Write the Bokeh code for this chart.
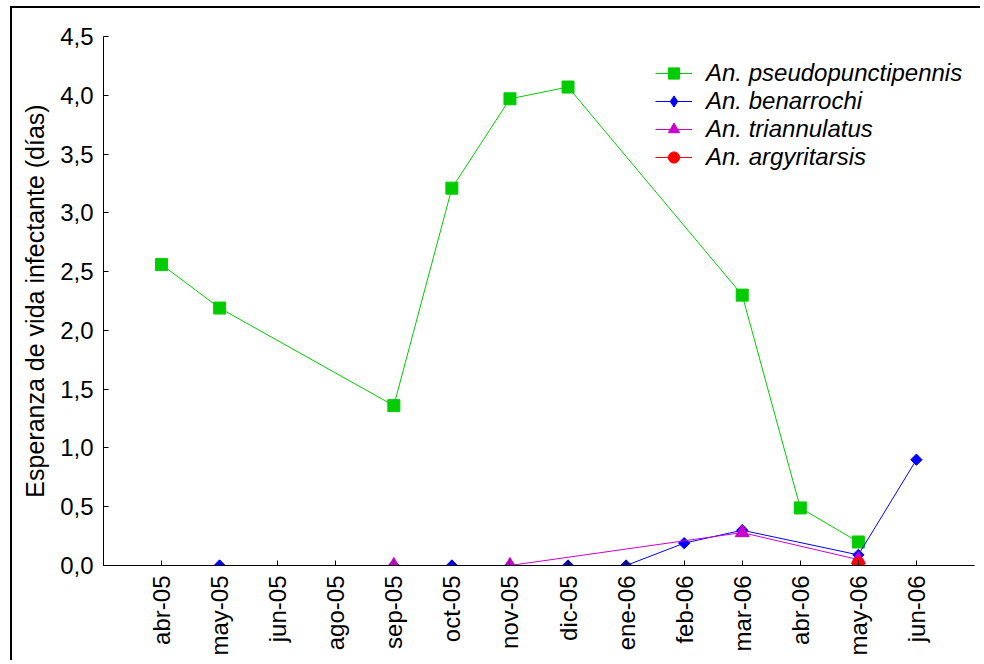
import math
from bokeh.plotting import figure
from bokeh.layouts import column
from bokeh.models import Range1d, FixedTicker, Legend, LegendItem
from bokeh.embed import file_html
from bokeh.resources import INLINE

categories = ["abr-05", "may-05", "jun-05", "ago-05", "sep-05", "oct-05", "nov-05",
              "dic-05", "ene-06", "feb-06", "mar-06", "abr-06", "may-06", "jun-06"]

pseudopunctipennis = [2.56, 2.19, None, None, 1.36, 3.21, 3.97, 4.07, None, None, 2.30, 0.49, 0.20, None]
benarrochi = [None, 0.0, None, None, 0.0, 0.0, 0.0, 0.0, 0.0, 0.19, 0.30, None, 0.09, 0.90]
triannulatus = [None, None, None, None, 0.0, None, 0.0, None, None, None, 0.28, None, 0.05, None]
argyritarsis = [None, None, None, None, None, None, None, None, None, None, None, None, 0.02, None]

y_ticks = [0.0, 0.5, 1.0, 1.5, 2.0, 2.5, 3.0, 3.5, 4.0, 4.5]
y_tick_labels = ["0,0", "0,5", "1,0", "1,5", "2,0", "2,5", "3,0", "3,5", "4,0", "4,5"]

FONT = "Liberation Sans"
FS = "24px"

p = figure(width=970, height=654, output_backend="svg", toolbar_location=None,
           x_range=Range1d(-1, 14), y_range=Range1d(0, 4.5),
           min_border_left=91, min_border_right=8, min_border_top=28, min_border_bottom=97)
p.outline_line_color = None
p.xgrid.visible = False
p.ygrid.visible = False

for ax in (p.xaxis[0], p.yaxis[0]):
    ax.axis_line_color = "black"
    ax.major_tick_line_color = "black"
    ax.minor_tick_line_color = None
    ax.major_tick_in = 5
    ax.major_tick_out = 0
    ax.major_label_text_font = FONT
    ax.major_label_text_font_size = FS
    ax.major_label_text_color = "black"
    ax.major_label_standoff = 10

p.xaxis[0].ticker = FixedTicker(ticks=list(range(len(categories))))
p.xaxis[0].major_label_overrides = {i: c for i, c in enumerate(categories)}
p.xaxis[0].major_label_orientation = math.pi / 2

p.yaxis[0].ticker = FixedTicker(ticks=y_ticks)
p.yaxis[0].major_label_overrides = {t: l for t, l in zip(y_ticks, y_tick_labels)}
p.yaxis[0].axis_label = "Esperanza de vida infectante (días)"
p.yaxis[0].axis_label_text_font = FONT
p.yaxis[0].axis_label_text_font_size = "25px"
p.yaxis[0].axis_label_text_font_style = "normal"
p.yaxis[0].axis_label_text_color = "black"
p.yaxis[0].axis_label_standoff = 8


def xy(values):
    xs = [i for i, v in enumerate(values) if v is not None]
    ys = [v for v in values if v is not None]
    return xs, ys


# name, values, colour, marker, size, angle, legend marker
series = [
    ("An. pseudopunctipennis", pseudopunctipennis, "#00CC00", "square", 12, 0, "square"),
    ("An. benarrochi", benarrochi, "#0000FF", "square", 8, math.pi / 4, "diamond"),
    ("An. triannulatus", triannulatus, "#CC00CC", "triangle", 14, 0, "triangle"),
    ("An. argyritarsis", argyritarsis, "#FF0000", "circle", 12, 0, "circle"),
]

items = []
for name, vals, col, marker, size, ang, lmarker in series:
    xs, ys = xy(vals)
    r1 = p.line(xs, ys, line_color=col, line_width=1)
    r2 = p.scatter(xs, ys, marker=marker, size=size, angle=ang,
                   fill_color=col, line_color=col)
    if lmarker == marker:
        items.append(LegendItem(label=name, renderers=[r1, r2]))
    else:
        r_leg = p.scatter(xs, ys, marker=lmarker, size=size,
                          fill_color=col, line_color=col, visible=False)
        items.append(LegendItem(label=name, renderers=[r1, r_leg]))

legend = Legend(items=items, location=(552, 394))
legend.label_text_font = FONT
legend.label_text_font_size = FS
legend.label_text_font_style = "italic"
legend.label_text_color = "black"
legend.border_line_color = None
legend.background_fill_alpha = 0
legend.inactive_fill_alpha = 0
legend.padding = 0
legend.margin = 0
legend.glyph_width = 37
legend.glyph_height = 28
legend.label_height = 28
legend.label_standoff = 14
legend.spacing = 0
p.add_layout(legend)

# outer picture border: only its left and top edges fall inside the window
page = column(p)
page.styles = {"margin-left": "12px", "margin-top": "8px",
               "box-shadow": "-2px -2px 0 0 black"}

open("out.html", "w").write(file_html(page, INLINE))
